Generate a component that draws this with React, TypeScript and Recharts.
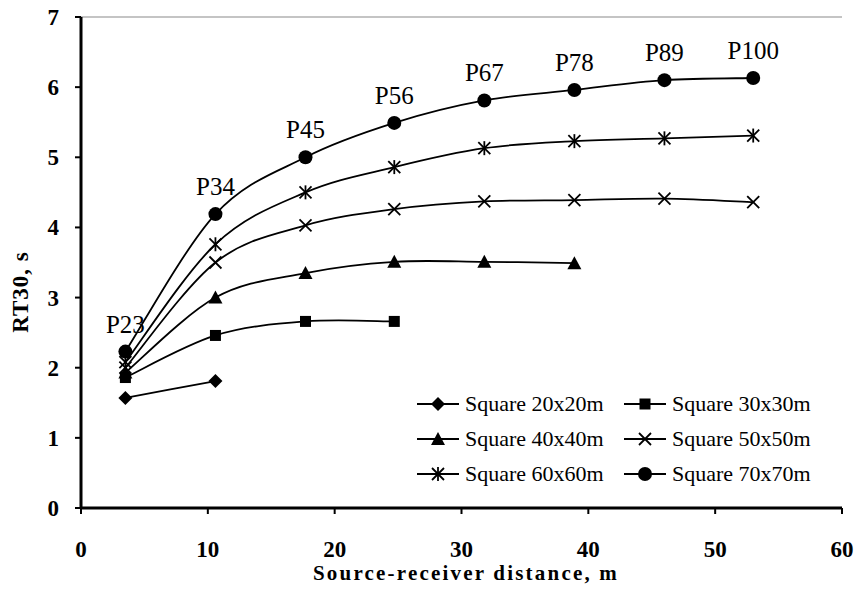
import React from 'react';
import {
  LineChart, Line, XAxis, YAxis, CartesianGrid, Legend, LabelList,
} from 'recharts';

// distances along the diagonal, m
const dist = [3.5, 10.6, 17.7, 24.7, 31.8, 38.9, 46, 53];

const rt20 = [1.57, 1.81];
const rt30 = [1.86, 2.46, 2.66, 2.66];
const rt40 = [1.93, 3.0, 3.35, 3.51, 3.51, 3.49];
const rt50 = [2.0, 3.5, 4.03, 4.26, 4.37, 4.39, 4.41, 4.36];
const rt60 = [2.08, 3.76, 4.5, 4.86, 5.13, 5.23, 5.27, 5.31];
const rt70 = [2.23, 4.19, 5.0, 5.49, 5.81, 5.96, 6.1, 6.13];

const pointNames = ['P23', 'P34', 'P45', 'P56', 'P67', 'P78', 'P89', 'P100'];

const xTicks = [0, 10, 20, 30, 40, 50, 60];
const yTicks = [0, 1, 2, 3, 4, 5, 6, 7];

const FONT = 'Liberation Serif';

const toRows = (vals: number[]) =>
  vals.map((v, i) => ({ x: dist[i], y: v, name: pointNames[i] }));

// Excel-ish smoothed line (catmull-rom through the points)
const smoothCurve = (context: any) => {
  let pts: number[][] = [];
  return {
    areaStart() {},
    areaEnd() {},
    lineStart() { pts = []; },
    point(x: number, y: number) { pts.push([x, y]); },
    lineEnd() {
      if (!pts.length) return;
      context.moveTo(pts[0][0], pts[0][1]);
      for (let i = 0; i < pts.length - 1; i++) {
        const p0 = pts[i - 1] || pts[i];
        const p1 = pts[i];
        const p2 = pts[i + 1];
        const p3 = pts[i + 2] || pts[i + 1];
        context.bezierCurveTo(
          p1[0] + (p2[0] - p0[0]) / 6, p1[1] + (p2[1] - p0[1]) / 6,
          p2[0] - (p3[0] - p1[0]) / 6, p2[1] - (p3[1] - p1[1]) / 6,
          p2[0], p2[1],
        );
      }
    },
  };
};

const Marker = ({ kind, cx, cy }: { kind: string; cx: number; cy: number }) => {
  if (cx == null || cy == null) return null;
  switch (kind) {
    case 'diamond':
      return <polygon points={`${cx},${cy - 7} ${cx + 7},${cy} ${cx},${cy + 7} ${cx - 7},${cy}`} fill="#000" />;
    case 'square':
      return <rect x={cx - 5.5} y={cy - 5.5} width={11} height={11} fill="#000" />;
    case 'triangle':
      return <polygon points={`${cx},${cy - 7} ${cx + 7},${cy + 6} ${cx - 7},${cy + 6}`} fill="#000" />;
    case 'cross':
      return (
        <g stroke="#000" strokeWidth={1.8}>
          <line x1={cx - 6} y1={cy - 6} x2={cx + 6} y2={cy + 6} />
          <line x1={cx - 6} y1={cy + 6} x2={cx + 6} y2={cy - 6} />
        </g>
      );
    case 'star':
      return (
        <g stroke="#000" strokeWidth={1.8}>
          <line x1={cx - 6} y1={cy - 6} x2={cx + 6} y2={cy + 6} />
          <line x1={cx - 6} y1={cy + 6} x2={cx + 6} y2={cy - 6} />
          <line x1={cx} y1={cy - 7} x2={cx} y2={cy + 7} />
        </g>
      );
    default:
      return <circle cx={cx} cy={cy} r={7} fill="#000" />;
  }
};

const series = [
  { name: 'Square 20x20m', data: toRows(rt20), marker: 'diamond' },
  { name: 'Square 30x30m', data: toRows(rt30), marker: 'square' },
  { name: 'Square 40x40m', data: toRows(rt40), marker: 'triangle' },
  { name: 'Square 50x50m', data: toRows(rt50), marker: 'cross' },
  { name: 'Square 60x60m', data: toRows(rt60), marker: 'star' },
  { name: 'Square 70x70m', data: toRows(rt70), marker: 'circle' },
];

const renderLegend = () => (
  <div
    style={{
      display: 'grid',
      gridTemplateColumns: '207px 200px',
      background: '#fff',
      fontFamily: FONT,
      fontSize: 22,
      color: '#000',
    }}
  >
    {series.map((s) => (
      <div key={s.name} style={{ display: 'flex', alignItems: 'center', height: 35 }}>
        <svg width={46} height={20} style={{ marginRight: 4 }}>
          <line x1={2} y1={10} x2={44} y2={10} stroke="#000" strokeWidth={1.8} />
          <Marker kind={s.marker} cx={23} cy={10} />
        </svg>
        <span style={{ fontFamily: FONT }}>{s.name}</span>
      </div>
    ))}
  </div>
);

const XTick = ({ x, y, payload }: any) => (
  <text x={x} y={y + 41} textAnchor="middle" fontFamily={FONT} fontWeight="bold" fontSize={23} fill="#000">
    {payload.value}
  </text>
);

const YTick = ({ x, y, payload }: any) => (
  <text x={x - 14} y={y + 8} textAnchor="end" fontFamily={FONT} fontWeight="bold" fontSize={23} fill="#000">
    {payload.value}
  </text>
);

const PointLabel = ({ x, y, width, value }: any) => (
  <text
    x={x + (width || 0) / 2}
    y={y - 19}
    textAnchor="middle"
    fontFamily={FONT}
    fontSize={25}
    fill="#000"
  >
    {value}
  </text>
);

const XTitle = () => (
  <text x={466} y={580} textAnchor="middle" fontFamily={FONT} fontWeight="bold" fontSize={21} letterSpacing={2.2} fill="#000">
    Source-receiver distance, m
  </text>
);

const YTitle = () => (
  <text
    x={28}
    y={292}
    transform="rotate(-90 28 292)"
    textAnchor="middle"
    fontFamily={FONT}
    fontWeight="bold"
    fontSize={23}
    letterSpacing={1}
    fill="#000"
  >
    RT30, s
  </text>
);

export default function App() {
  return (
    <div style={{ position: 'absolute', left: 0, top: 0, background: '#fff' }}>
      <LineChart width={866} height={596} margin={{ top: 17, right: 24, bottom: 0, left: 0 }}>
        <CartesianGrid vertical={false} stroke="#8a8a8a" strokeWidth={1.2} />
        <XAxis
          xAxisId="b"
          type="number"
          dataKey="x"
          domain={[0, 60]}
          ticks={xTicks}
          height={88}
          axisLine={{ stroke: '#000', strokeWidth: 3 }}
          tickLine={{ stroke: '#000', strokeWidth: 2 }}
          tickSize={6}
          tick={<XTick />}
          label={<XTitle />}
        />
        <XAxis
          xAxisId="t"
          orientation="top"
          type="number"
          dataKey="x"
          domain={[0, 60]}
          height={0}
          tick={false}
          tickLine={false}
          axisLine={{ stroke: '#000', strokeWidth: 1.8 }}
        />
        <YAxis
          yAxisId="l"
          type="number"
          domain={[0, 7]}
          ticks={yTicks}
          width={81}
          axisLine={{ stroke: '#000', strokeWidth: 3 }}
          tickLine={{ stroke: '#000', strokeWidth: 2 }}
          tickSize={6}
          tick={<YTick />}
          label={<YTitle />}
        />
        <YAxis
          yAxisId="r"
          orientation="right"
          type="number"
          domain={[0, 7]}
          width={0}
          tick={false}
          tickLine={false}
          axisLine={{ stroke: '#000', strokeWidth: 1.8 }}
        />
        <Legend
          layout="vertical"
          align="center"
          verticalAlign="middle"
          content={renderLegend}
          wrapperStyle={{ left: 415, top: 386, width: 407 }}
        />
        {series.map((s) => (
          <Line
            key={s.name}
            xAxisId="b"
            yAxisId="l"
            data={s.data}
            dataKey="y"
            name={s.name}
            type={smoothCurve as any}
            stroke="#000"
            strokeWidth={1.8}
            dot={(p: any) => <Marker key={`${s.name}-${p.index}`} kind={s.marker} cx={p.cx} cy={p.cy} />}
            activeDot={false}
            isAnimationActive={false}
          >
            {s.marker === 'circle' && <LabelList dataKey="name" content={<PointLabel />} />}
          </Line>
        ))}
      </LineChart>
    </div>
  );
}
